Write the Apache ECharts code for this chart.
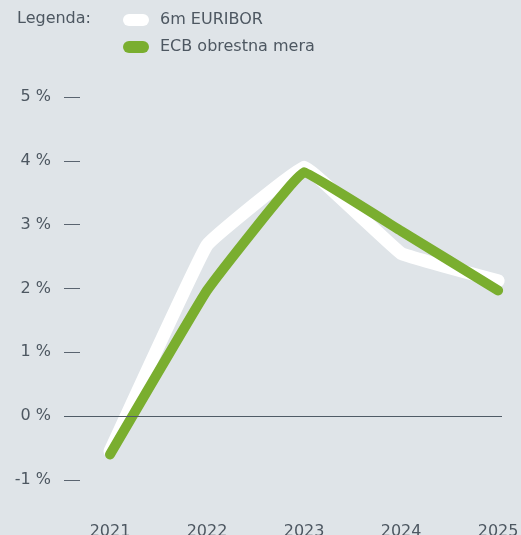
<!DOCTYPE html>
<html>
<head>
<meta charset="utf-8">
<script src="https://cdn.jsdelivr.net/npm/echarts@6/dist/echarts.min.js"></script>
<style>
  html, body { margin: 0; padding: 0; background: #dfe4e8; }
  #main { width: 521px; height: 535px; }
</style>
</head>
<body>
<div id="main"></div>
<script>
// podatki
var years = [2021, 2022, 2023, 2024, 2025];
var euribor = [-0.55, 2.68, 3.9, 2.55, 2.12];
var ecb = [-0.6, 1.97, 3.82, 2.9, 1.97];
var yTicks = [-1, 0, 1, 2, 3, 4, 5];

var textColor = '#4d5761';
var font = 'DejaVu Sans';

function pairs(vals) {
  return years.map(function (y, i) { return [y, vals[i]]; });
}

var chart = echarts.init(document.getElementById('main'));

var pill = 'path://M6,0 H20 A6,6 0 0 1 20,12 H6 A6,6 0 0 1 6,0 Z';

var option = {
  backgroundColor: '#dfe4e8',
  animation: false,
  title: {
    text: 'Legenda:',
    left: 17,
    top: 11,
    padding: 0,
    textStyle: { color: textColor, fontSize: 16, fontWeight: 'normal', fontFamily: font }
  },
  legend: {
    orient: 'vertical',
    left: 123,
    top: 12,
    padding: 0,
    itemWidth: 26,
    itemHeight: 13,
    itemGap: 11,
    textStyle: { color: textColor, fontSize: 16, fontFamily: font, padding: [0, 0, 0, 6] },
    data: [
      { name: '6m EURIBOR', icon: pill, itemStyle: { color: '#ffffff' } },
      { name: 'ECB obrestna mera', icon: pill, itemStyle: { color: '#7aae2f' } }
    ]
  },
  grid: { left: 64, right: 19, top: 97, bottom: 55, containLabel: false, outerBoundsMode: 'none' },
  xAxis: {
    type: 'value',
    min: 2020.526,
    max: 2025.04,
    axisLine: { show: false },
    axisTick: { show: false },
    splitLine: { show: false },
    axisLabel: {
      customValues: years,
      margin: 44,
      color: textColor,
      fontSize: 16,
      fontFamily: font,
      formatter: function (v) { return String(v); }
    }
  },
  yAxis: {
    type: 'value',
    min: -1,
    max: 5,
    interval: 1,
    axisLine: { show: false },
    axisTick: { show: true, inside: true, length: 16, lineStyle: { color: '#5a6470', width: 1 } },
    splitLine: { show: false },
    axisLabel: {
      margin: 13,
      padding: [6, 0, 0, 0],
      color: textColor,
      fontSize: 16,
      fontFamily: font,
      formatter: '{value} %'
    }
  },
  series: [
    {
      name: 'zero',
      type: 'line',
      data: [],
      z: 1,
      markLine: {
        silent: true,
        symbol: 'none',
        label: { show: false },
        lineStyle: { color: '#4f5b66', width: 1, type: 'solid' },
        data: [{ yAxis: 0 }]
      }
    },
    {
      name: '6m EURIBOR',
      type: 'line',
      data: pairs(euribor),
      smooth: 0.06,
      showSymbol: false,
      z: 2,
      lineStyle: { color: '#ffffff', width: 13, cap: 'round', join: 'round' },
      itemStyle: { color: '#ffffff' }
    },
    {
      name: 'ECB obrestna mera',
      type: 'line',
      data: pairs(ecb),
      smooth: 0.06,
      showSymbol: false,
      z: 3,
      lineStyle: { color: '#7aae2f', width: 10, cap: 'round', join: 'round' },
      itemStyle: { color: '#7aae2f' }
    }
  ]
};

chart.setOption(option);
</script>
</body>
</html>
